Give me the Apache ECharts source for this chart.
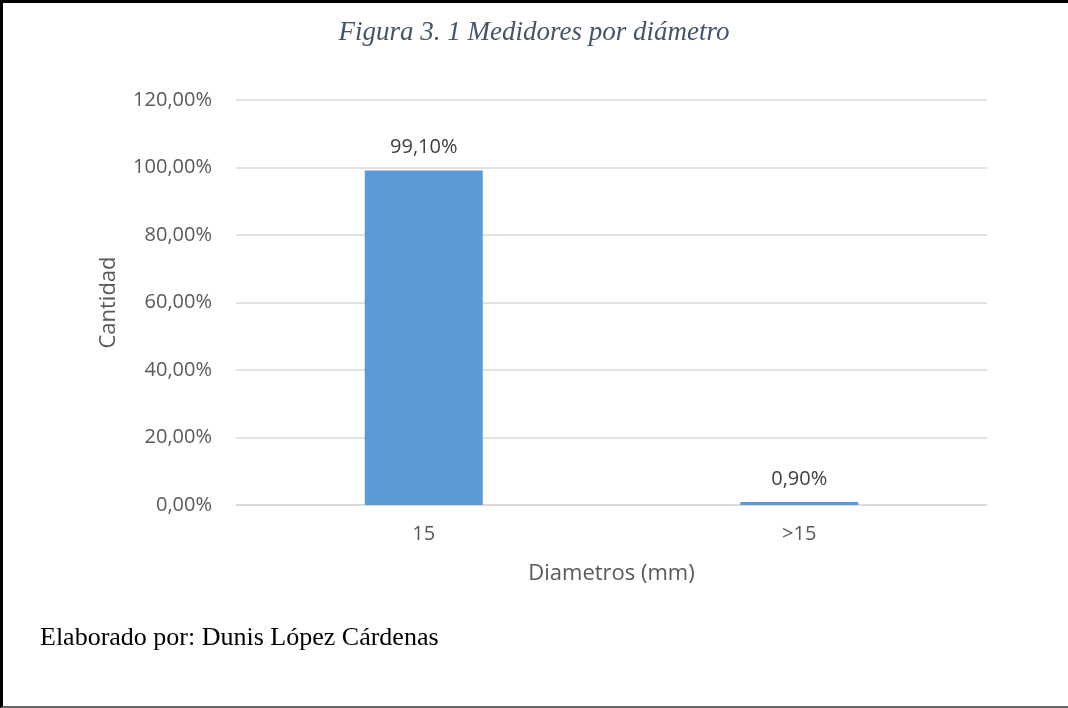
<!DOCTYPE html>
<html>
<head>
<meta charset="utf-8">
<script src="https://cdn.jsdelivr.net/npm/echarts@6/dist/echarts.min.js"></script>
<style>
  html, body { margin: 0; padding: 0; background: #fff; }
  #frame {
    position: absolute; left: 0; top: 0; width: 1068px; height: 708px;
    box-sizing: border-box;
    border-top: 3px solid #000; border-left: 3px solid #000;
    border-bottom: 2px solid #666;
  }
  #chart { position: absolute; left: 0; top: 0; width: 1068px; height: 708px; }
</style>
</head>
<body>
<div id="frame"></div>
<div id="chart"></div>
<script>
// Share of meters by diameter
const categories = ['15', '>15'];
const shares = [99.10, 0.90];
const yTicks = { min: 0, max: 120, interval: 20 };

const pct = v => v.toFixed(2).replace('.', ',') + '%';
const axisFont = '"Open Sans", "Noto Sans", sans-serif';

const chart = echarts.init(document.getElementById('chart'));
chart.setOption({
  animation: false,
  title: {
    text: 'Figura 3. 1 Medidores por diámetro',
    left: 'center', top: 14,
    textStyle: { fontFamily: '"Liberation Serif", "DejaVu Serif", serif', fontStyle: 'italic',
      fontWeight: 'normal', fontSize: 27, color: '#44546A' }
  },
  graphic: [{
    type: 'text', left: 40, top: 625,
    style: { text: 'Elaborado por: Dunis López Cárdenas',
      font: '26px "Liberation Serif", "DejaVu Serif", serif', fill: '#000' }
  }],
  grid: { left: 236, right: 81, top: 100, bottom: 203 },
  xAxis: {
    type: 'category', data: categories,
    name: 'Diametros (mm)', nameLocation: 'middle', nameGap: 58,
    nameTextStyle: { fontFamily: axisFont, fontSize: 22, color: '#595959' },
    axisLine: { lineStyle: { color: '#D9D9D9', width: 1.5 } },
    axisTick: { show: false },
    axisLabel: { margin: 19, fontFamily: axisFont, fontSize: 20, color: '#595959' }
  },
  yAxis: {
    type: 'value', min: yTicks.min, max: yTicks.max, interval: yTicks.interval,
    name: 'Cantidad', nameLocation: 'middle', nameGap: 116,
    nameTextStyle: { fontFamily: axisFont, fontSize: 22, color: '#595959' },
    axisLine: { show: false }, axisTick: { show: false },
    splitLine: { lineStyle: { color: '#D9D9D9', width: 1.5 } },
    axisLabel: { margin: 24, fontFamily: axisFont, fontSize: 20, color: '#595959',
      formatter: v => pct(v) }
  },
  series: [{
    type: 'bar', data: shares, barWidth: 118,
    itemStyle: { color: '#5B9BD5' },
    label: { show: true, position: 'top', distance: 13,
      fontFamily: axisFont, fontSize: 20, color: '#404040',
      formatter: p => pct(p.value) }
  }]
});
</script>
</body>
</html>
